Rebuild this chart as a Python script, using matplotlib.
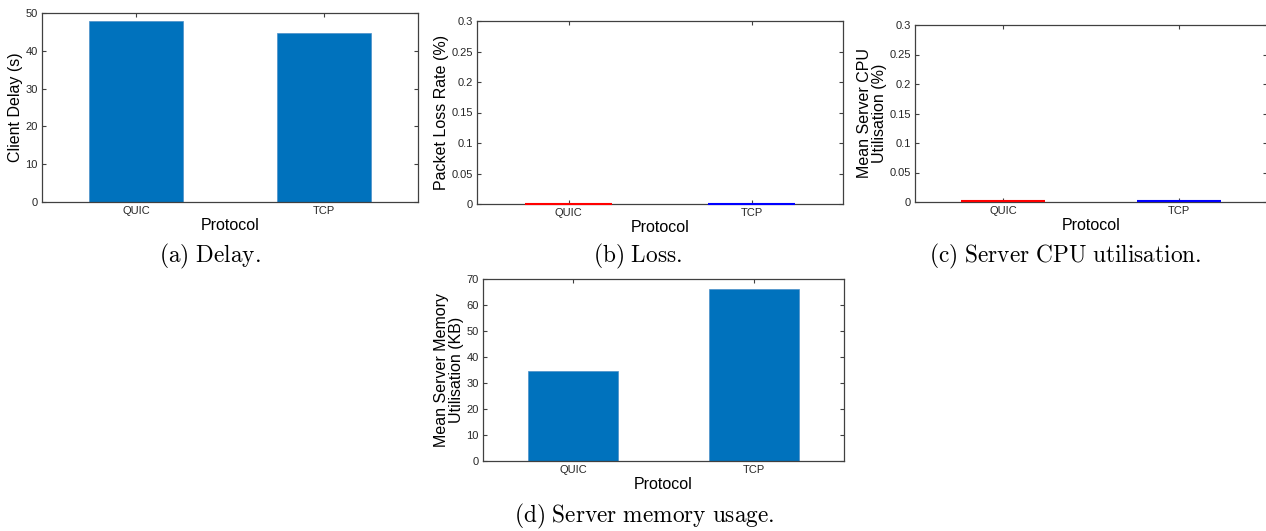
import matplotlib
matplotlib.use("Agg")
import matplotlib.pyplot as plt

protocols = ["QUIC", "TCP"]
delay_s = [47.8, 44.7]
loss_pct = [0.0003, 0.0004]
cpu_pct = [0.0010, 0.0012]
mem_kb = [34.7, 66.2]
line_colors = ["#FF0000", "#0000FF"]

plt.rcParams['font.family'] = ['Liberation Sans', 'DejaVu Sans']
plt.rcParams['mathtext.fontset'] = 'cm'

W, H = 1266, 531
fig = plt.figure(figsize=(W/100, H/100), dpi=100)

def px_axes(l, t, r, b):
    return fig.add_axes([l/W, 1 - b/H, (r-l)/W, (b-t)/H])

AX_COL = "#404040"
TXT_COL = "#262626"

def style(ax, ylim, yticks, yticklabels, ylabel):
    x = range(1, len(protocols)+1)
    ax.set_xlim(0.5, len(protocols)+0.5)
    ax.set_ylim(*ylim)
    ax.set_xticks(list(x))
    ax.set_xticklabels(protocols, fontsize=8, color=TXT_COL)
    ax.set_yticks(yticks)
    ax.set_yticklabels(yticklabels, fontsize=8, color=TXT_COL)
    ax.tick_params(direction='in', top=True, right=True, length=3, width=0.8,
                   colors=AX_COL, labelcolor=TXT_COL, pad=3)
    for s in ax.spines.values():
        s.set_color(AX_COL)
        s.set_linewidth(0.9)
    ax.set_xlabel("Protocol", fontsize=11.5, color="black", labelpad=1)
    ax.set_ylabel(ylabel, fontsize=11.5, color="black", labelpad=2, linespacing=0.95)

def fmt(v):
    return "%g" % v

xs = [1, 2]

# (a)
ax = px_axes(42, 13, 418, 202)
ax.bar(xs, delay_s, width=0.5, color="#0072BD", edgecolor="#4a8fc8", linewidth=0.5, zorder=2)
yt1 = [0, 10, 20, 30, 40, 50]
style(ax, (0, 50), yt1, [fmt(v) for v in yt1], "Client Delay (s)")

# (b)
ax = px_axes(477, 21, 843, 204)
yt = [0, 0.05, 0.1, 0.15, 0.2, 0.25, 0.3]
for i, (v, c) in enumerate(zip(loss_pct, line_colors)):
    ax.hlines(v, xs[i]-0.24, xs[i]+0.24, colors=c, linewidth=1.5, zorder=3, clip_on=False)
style(ax, (0, 0.3), yt, [fmt(v) for v in yt], "Packet Loss Rate (%)")

# (c)
ax = px_axes(915, 25, 1267, 202)
for i, (v, c) in enumerate(zip(cpu_pct, line_colors)):
    ax.hlines(v, xs[i]-0.24, xs[i]+0.24, colors=c, linewidth=1.5, zorder=3, clip_on=False)
style(ax, (0, 0.3), yt, [fmt(v) for v in yt], "Mean Server CPU\nUtilisation (%)")

# (d)
ax = px_axes(483, 279, 844, 461)
ax.bar(xs, mem_kb, width=0.5, color="#0072BD", edgecolor="#4a8fc8", linewidth=0.5, zorder=2)
yt4 = [0, 10, 20, 30, 40, 50, 60, 70]
style(ax, (0, 70), yt4, [fmt(v) for v in yt4], "Mean Server Memory\nUtilisation (KB)")

# captions
cap = dict(fontsize=16.8, ha='center', va='center', color='black')
fig.text(210/W, 1 - 256/H, r"$\mathrm{(a)\ Delay.}$", **cap)
fig.text(638/W, 1 - 256/H, r"$\mathrm{(b)\ Loss.}$", **cap)
fig.text(1065/W, 1 - 256/H, r"$\mathrm{(c)\ Server\ CPU\ utilisation.}$", **cap)
fig.text(644/W, 1 - 516/H, r"$\mathrm{(d)\ Server\ memory\ usage.}$", **cap)

fig.savefig("out.png", dpi=100)
